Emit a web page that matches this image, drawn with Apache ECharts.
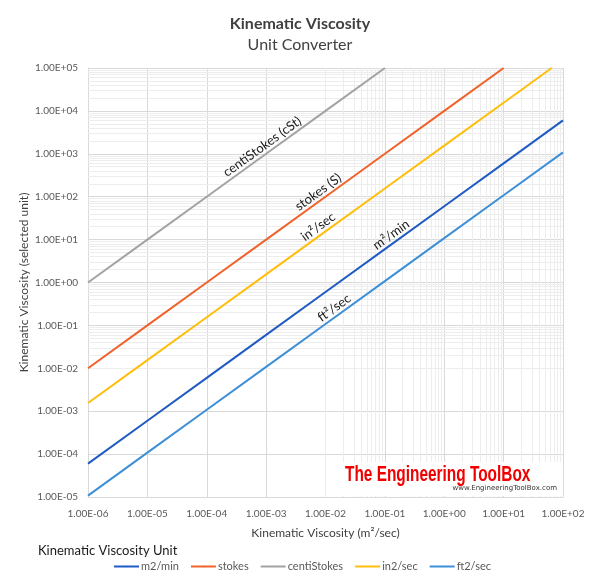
<!DOCTYPE html>
<html>
<head>
<meta charset="utf-8">
<script src="https://cdn.jsdelivr.net/npm/echarts@6/dist/echarts.min.js"></script>
<style>
  html, body { margin: 0; padding: 0; background: #fff; }
  #chart { width: 600px; height: 585px; }
</style>
</head>
<body>
<div id="chart"></div>
<script>
// kinematic viscosity in m2/sec (x) and the same value in other units (y)
var x_values = [1e-6, 1e-5, 1e-4, 1e-3, 1e-2, 1e-1, 1e0, 1e1, 1e2];

var m2min_values = [6e-5, 6e-4, 6e-3, 6e-2, 0.6, 6, 60, 600, 6000];
var stokes_x = [1e-6, 1e-5, 1e-4, 1e-3, 1e-2, 1e-1, 1e0, 1e1];
var stokes_values = [1e-2, 1e-1, 1, 10, 100, 1000, 1e4, 1e5];
var centi_x = [1e-6, 1e-5, 1e-4, 1e-3, 1e-2, 1e-1];
var centi_values = [1, 10, 100, 1000, 1e4, 1e5];
var in2_x = [1e-6, 1e-5, 1e-4, 1e-3, 1e-2, 1e-1, 1e0, 1e1, 64.5];
var in2_values = [1.55e-3, 1.55e-2, 0.155, 1.55, 15.5, 155, 1550, 15500, 1e5];
var ft2_values = [1.08e-5, 1.08e-4, 1.08e-3, 1.08e-2, 0.108, 1.08, 10.8, 108, 1080];

var series_names = ['m2/min', 'stokes', 'centiStokes', 'in2/sec', 'ft2/sec'];
var series_colors = ['#1F5BC3', '#F0622A', '#A3A3A3', '#FFBE0B', '#3D8FD8'];

// line labels, one per series: [x, y on the line, text]
var line_labels = [
    [0.153, 9.18, 'm²/min'],
    [9.04e-3, 90.4, 'stokes (S)'],
    [1.03e-3, 1030, 'centiStokes (cSt)'],
    [9.04e-3, 14.0, 'in²/sec'],
    [0.01683, 0.181, 'ft²/sec']
];

var FONT = 'Lato';

function pair(xs, ys) {
    var out = [];
    for (var i = 0; i < xs.length; i++) out.push([xs[i], ys[i]]);
    return out;
}

function sci_label(v) {
    var e = Math.round(Math.log10(v));
    var a = Math.abs(e);
    return '1.00E' + (e < 0 ? '-' : '+') + (a < 10 ? '0' + a : a);
}

// minor grid lines at 2..9 of each decade
var minor_x = [], minor_y = [];
for (var d = -6; d < 2; d++) for (var k = 2; k < 10; k++) minor_x.push({ xAxis: k * Math.pow(10, d) });
for (var d = -5; d < 5; d++) for (var k = 2; k < 10; k++) minor_y.push({ yAxis: k * Math.pow(10, d) });

var all_data = [
    pair(x_values, m2min_values),
    pair(stokes_x, stokes_values),
    pair(centi_x, centi_values),
    pair(in2_x, in2_values),
    pair(x_values, ft2_values)
];

var series = [{
    type: 'line',
    data: [],
    silent: true,
    z: 1,
    markLine: {
        silent: true,
        z: 1,
        symbol: 'none',
        label: { show: false },
        lineStyle: { color: '#EDEDED', width: 1, type: 'solid' },
        animation: false,
        data: minor_x.concat(minor_y)
    }
}];

for (var i = 0; i < 5; i++) {
    var lb = line_labels[i];
    series.push({
        name: series_names[i],
        type: 'line',
        data: all_data[i],
        symbol: 'none',
        lineStyle: { color: series_colors[i], width: 2 },
        itemStyle: { color: series_colors[i] },
        z: 3,
        markPoint: {
            symbol: 'circle',
            symbolSize: 1,
            itemStyle: { color: 'rgba(0,0,0,0)' },
            label: {
                show: true,
                position: 'inside',
                rotate: 35.8,
                offset: [0, -8],
                formatter: lb[2],
                color: '#1a1a1a',
                fontFamily: FONT,
                fontSize: 13
            },
            data: [{ coord: [lb[0], lb[1]] }]
        }
    });
}

var my_chart = echarts.init(document.getElementById('chart'));
var option = {
    animation: false,
    backgroundColor: '#fff',
    title: [{
        text: 'Kinematic Viscosity',
        subtext: 'Unit Converter',
        left: 'center',
        top: 11,
        itemGap: 5,
        textStyle: { fontFamily: FONT, fontSize: 16, fontWeight: 'bold', color: '#404040' },
        subtextStyle: { fontFamily: FONT, fontSize: 16, color: '#404040' }
    }, {
        text: 'Kinematic Viscosity Unit',
        left: 33,
        top: 539,
        textStyle: { fontFamily: FONT, fontSize: 13, fontWeight: 'normal', color: '#1a1a1a' }
    }],
    legend: {
        data: series_names,
        top: 556,
        left: 108,
        itemWidth: 25,
        itemHeight: 2,
        itemGap: 11,
        textStyle: { fontFamily: FONT, fontSize: 11, color: '#595959', padding: [0, 0, 0, -3] }
    },
    grid: { left: 88, right: 37, top: 68, bottom: 88 },
    xAxis: {
        type: 'log',
        logBase: 10,
        min: 1e-6,
        max: 1e2,
        interval: 1,
        name: 'Kinematic Viscosity (m²/sec)',
        nameLocation: 'middle',
        nameGap: 30,
        nameTextStyle: { fontFamily: FONT, fontSize: 12, color: '#404040' },
        axisLine: { show: true, lineStyle: { color: '#D9D9D9' } },
        axisTick: { show: false },
        axisLabel: { formatter: sci_label, fontFamily: FONT, fontSize: 10, color: '#595959', margin: 12 },
        splitLine: { show: true, lineStyle: { color: '#D9D9D9' } }
    },
    yAxis: {
        type: 'log',
        logBase: 10,
        min: 1e-5,
        max: 1e5,
        interval: 1,
        name: 'Kinematic Viscosity (selected unit)',
        nameLocation: 'middle',
        nameGap: 58,
        nameMoveOverlap: false,
        nameTextStyle: { fontFamily: FONT, fontSize: 12, color: '#404040' },
        axisLine: { show: true, lineStyle: { color: '#D9D9D9' } },
        axisTick: { show: false },
        axisLabel: { formatter: sci_label, fontFamily: FONT, fontSize: 10, color: '#595959', margin: 10 },
        splitLine: { show: true, lineStyle: { color: '#D9D9D9' } }
    },
    graphic: [{
        type: 'rect',
        shape: { x: 341, y: 462, width: 221, height: 34 },
        style: { fill: '#fff' },
        z: 10
    }, {
        type: 'text',
        x: 345,
        y: 464,
        scaleX: 0.7,
        style: {
            text: 'The Engineering ToolBox',
            font: 'bold 22px "Liberation Sans", sans-serif',
            fill: '#F00000'
        },
        z: 11
    }, {
        type: 'text',
        x: 557,
        y: 485,
        style: {
            text: 'www.EngineeringToolBox.com',
            font: '7px "DejaVu Sans", sans-serif',
            fill: '#333',
            align: 'right'
        },
        z: 11
    }],
    series: series
};
my_chart.setOption(option);
</script>
</body>
</html>
